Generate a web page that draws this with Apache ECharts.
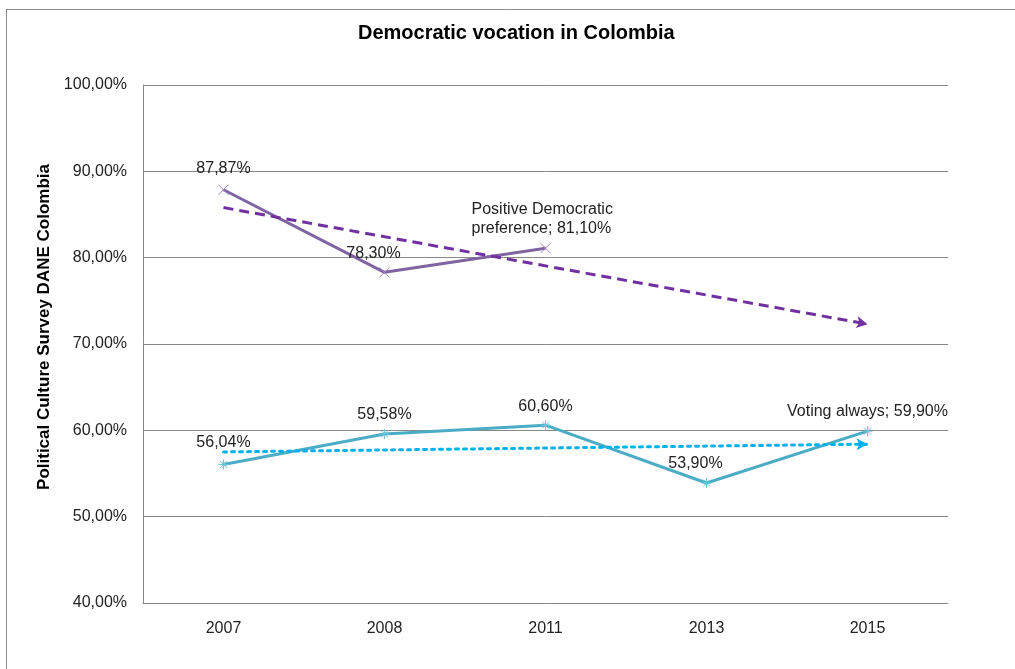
<!DOCTYPE html>
<html>
<head>
<meta charset="utf-8">
<script src="https://cdn.jsdelivr.net/npm/echarts@6/dist/echarts.min.js"></script>
<style>
html, body { margin: 0; padding: 0; background: #fff; }
#chart { width: 1015px; height: 669px; }
</style>
</head>
<body>
<div id="chart"></div>
<script>
const years = ['2007', '2008', '2011', '2013', '2015'];
const democraticPref = [87.87, 78.30, 81.10, null, null];
const votingAlways = [56.04, 59.58, 60.60, 53.90, 59.90];
// trend end points
const prefTrend = [85.8, 72.3];
const voteTrend = [57.5, 58.4];

const fmt = v => v.toFixed(2).replace('.', ',') + '%';

const purple = '#8064A2';
const blue = '#4BACC6';

const crossSym = 'path://M0,0L10,10M10,0L0,10';
const starSym = 'path://M5,0L5,10M0,5L10,5M1.5,1.5L8.5,8.5M8.5,1.5L1.5,8.5';

// label tweaks per point
const prefLabels = [
    { offset: [0, -3] },
    { offset: [-11, 0] },
    { offset: [-74, 0], align: 'left', lineHeight: 19, formatter: 'Positive Democratic\npreference; 81,10%' },
];
const voteLabels = [
    { offset: [0, -3] },
    { offset: [0, -1] },
    { offset: [0, 0] },
    { offset: [-11, -1] },
    { offset: [0, -1], formatter: 'Voting always; 59,90%' },
];

const chart = echarts.init(document.getElementById('chart'));

chart.setOption({
    backgroundColor: '#fff',
    animation: false,
    textStyle: { fontFamily: 'Liberation Sans, Arial, sans-serif' },
    title: {
        text: 'Democratic vocation in Colombia',
        left: 353,
        top: 18,
        textStyle: { fontSize: 20, fontWeight: 'bold', color: '#000' },
    },
    graphic: [
        {
            type: 'line',
            shape: { x1: 6, y1: 9.5, x2: 1015, y2: 9.5 },
            style: { stroke: '#8c8c8c', lineWidth: 1 },
            silent: true,
        },
        {
            type: 'line',
            shape: { x1: 6.5, y1: 9, x2: 6.5, y2: 669 },
            style: { stroke: '#8c8c8c', lineWidth: 1 },
            silent: true,
        },
    ],
    grid: { left: 143, right: 67, top: 85, bottom: 66 },
    xAxis: {
        type: 'category',
        data: years,
        boundaryGap: true,
        axisLine: { lineStyle: { color: '#888' } },
        axisTick: { show: false },
        axisLabel: { color: '#222', fontSize: 16, margin: 18 },
    },
    yAxis: {
        type: 'value',
        min: 40,
        max: 100,
        interval: 10,
        name: 'Political Culture Survey DANE Colombia',
        nameLocation: 'middle',
        nameGap: 68,
        nameTextStyle: { fontSize: 17, fontWeight: 'bold', color: '#000', padding: [14, 0, 0, 34] },
        axisLine: { show: true, lineStyle: { color: '#888' } },
        axisTick: { show: false },
        axisLabel: { color: '#222', fontSize: 16, margin: 16, formatter: v => fmt(v) },
        splitLine: { lineStyle: { color: '#888', width: 1 } },
    },
    series: [
        {
            name: 'Positive Democratic preference',
            type: 'line',
            data: democraticPref.map((v, i) => v == null ? null : {
                value: v,
                label: prefLabels[i],
            }),
            lineStyle: { color: purple, width: 3 },
            symbol: crossSym,
            symbolSize: 10,
            itemStyle: { color: 'transparent', borderColor: '#9E86C0', borderWidth: 1 },
            label: {
                show: true,
                position: 'top',
                fontSize: 16,
                color: '#222',
                formatter: p => fmt(p.value),
            },
            markLine: {
                silent: true,
                symbol: ['none', 'arrow'],
                symbolSize: [9, 11],
                label: { show: false },
                lineStyle: { color: '#7030A0', type: [10, 6], width: 3 },
                data: [[{ coord: [years[0], prefTrend[0]] }, { coord: [years[4], prefTrend[1]] }]],
            },
            z: 3,
        },
        {
            name: 'Voting always',
            type: 'line',
            data: votingAlways.map((v, i) => ({ value: v, label: voteLabels[i] })),
            lineStyle: { color: blue, width: 3 },
            symbol: starSym,
            symbolSize: 10,
            itemStyle: { color: 'transparent', borderColor: '#6CC4DA', borderWidth: 1 },
            label: {
                show: true,
                position: 'top',
                fontSize: 16,
                color: '#222',
                formatter: p => fmt(p.value),
            },
            markLine: {
                silent: true,
                symbol: ['none', 'arrow'],
                symbolSize: [9, 11],
                label: { show: false },
                lineStyle: { color: '#00B0F0', type: [3, 5], width: 3, cap: 'round' },
                data: [[{ coord: [years[0], voteTrend[0]] }, { coord: [years[4], voteTrend[1]] }]],
            },
            z: 3,
        },
    ],
});
</script>
</body>
</html>
